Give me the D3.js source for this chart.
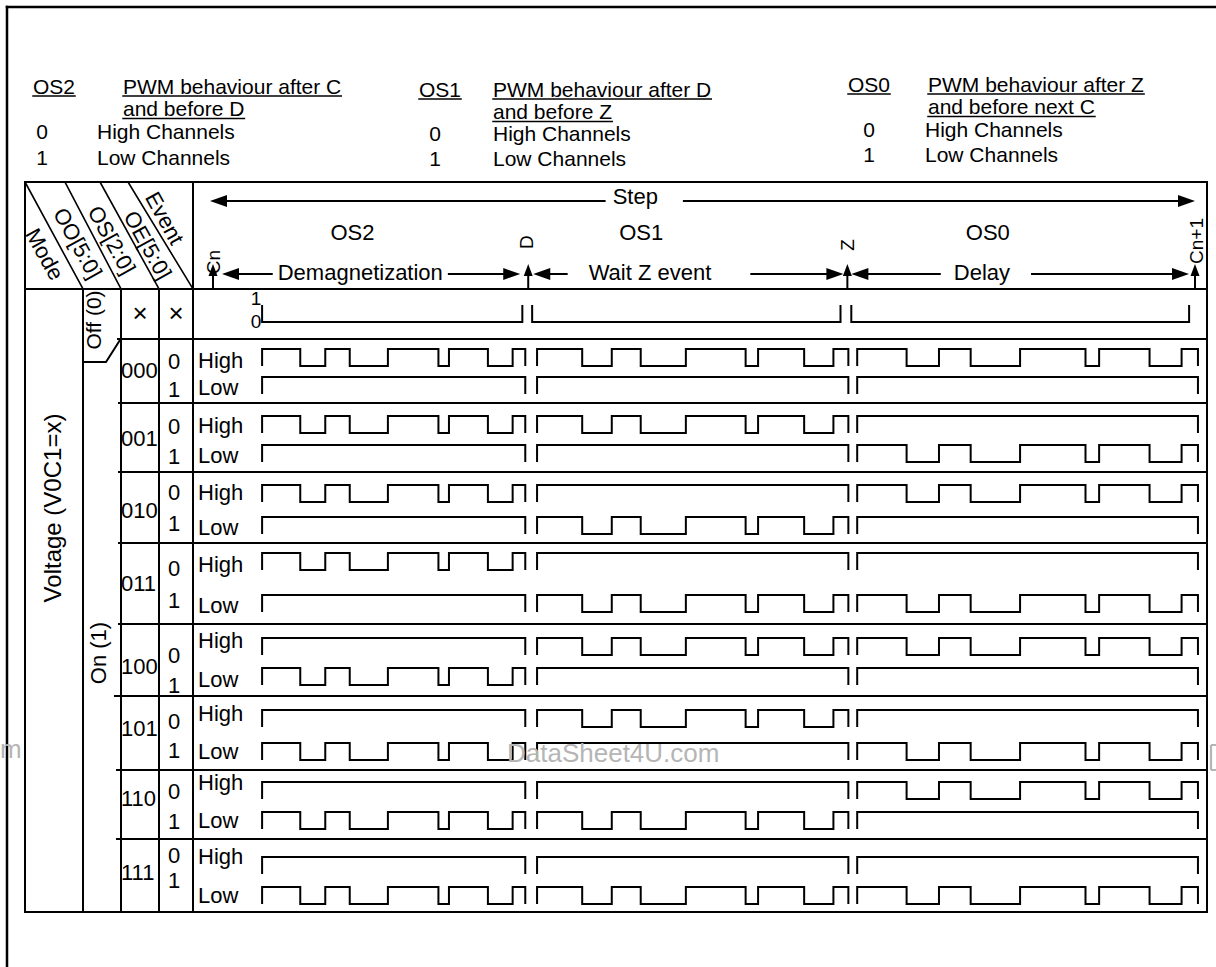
<!DOCTYPE html>
<html><head><meta charset="utf-8">
<script src="https://cdn.jsdelivr.net/npm/d3@7"></script>
<style>
body{margin:0;background:#fff}
svg{display:block}
text{font-family:"Liberation Sans",Arial,Helvetica,sans-serif}
</style>
</head><body>
<svg id="c" width="1216" height="967"></svg>
<script>
// ---------------- DATA ----------------
const codes = ["000","001","010","011","100","101","110","111"];
const rowLabels = ["High","Low"];
const rowBits = ["0","1"];
const stepEvents = ["Cn","D","Z","Cn+1"];
const eventTimes = [0, 32.1, 64.6, 100];            // % of one step
const phaseNames = ["OS2","OS1","OS0"];
const phaseLabels = ["Demagnetization","Wait Z event","Delay"];
const offSegments = [[5.0,31.5],[32.5,63.9],[65.0,99.4]];
const pwmSegments = [[5.0,31.8],[33.0,64.7],[65.6,100.3]];
const pwmToggles = [0.145,0.24,0.333,0.478,0.67,0.71,0.858,0.952]; // fraction of segment
const headerLabels = ["Mode","OO[5:0]","OS[2:0]","OE[5:0]","Event"];
const legendCodes = ["OS2","OS1","OS0"];
const legendLine1 = ["PWM behaviour after C","PWM behaviour after D","PWM behaviour after Z"];
const legendLine2 = ["and before D","and before Z","and before next C"];
const legendBits = ["0","1"];
const legendChannels = ["High Channels","Low Channels"];
const modeLabel = "Voltage (V0C1=x)";
const ooLabels = ["Off (0)","On (1)"];
const offLevels = ["1","0"];
const watermark = "DataSheet4U.com";

// ---------------- DRAWING ----------------
const svg = d3.select("#c");
const x = d3.scaleLinear().domain([0,100]).range([213,1195]);

function txt(px, py, s, o={}) {
  const size = o.size || 22;
  const t = svg.append("text")
    .attr("x", px).attr("y", py + size*0.36)
    .attr("font-size", size)
    .attr("text-anchor", o.anchor || "start")
    .attr("fill", o.fill || "#000")
    .text(s);
  if (o.rotate != null) t.attr("transform", `rotate(${o.rotate},${px},${py})`);
  return t;
}
function ln(x1,y1,x2,y2,w=2,col="#000") {
  svg.append("line").attr("x1",x1).attr("y1",y1).attr("x2",x2).attr("y2",y2)
    .attr("stroke",col).attr("stroke-width",w).attr("stroke-linecap","square");
}
function head(tx, ty, dir, len=17, half=6) {
  let p;
  if (dir==="left") p=[[tx,ty],[tx+len,ty-half],[tx+len,ty+half]];
  else if (dir==="right") p=[[tx,ty],[tx-len,ty-half],[tx-len,ty+half]];
  else p=[[tx,ty],[tx-half,ty+len],[tx+half,ty+len]];
  svg.append("path").attr("d", d3.line()(p)+"Z").attr("fill","#000");
}
function underline(t, w=1.5) {
  const b = t.node().getBBox();
  const by = +t.attr("y") + 2.5;
  ln(b.x, by, b.x + b.width, by, w);
}

// outer frame
ln(7,7,1216,7,2.5);
ln(7,7,7,967,2.5);

// legend
const LF = 21;
const legX = [{code:33, txt:123, bit:42, ch:97,  y:[86,108.5,131,157]},
              {code:419, txt:493, bit:435, ch:493, y:[89,111.5,133,158]},
              {code:848, txt:928, bit:869, ch:925, y:[84,106.5,129,154]}];
legendCodes.forEach((c,i)=>{
  const L = legX[i];
  underline(txt(L.code, L.y[0], c, {size:LF}));
  underline(txt(L.txt, L.y[0], legendLine1[i], {size:LF}));
  underline(txt(L.txt, L.y[1], legendLine2[i], {size:LF}));
  legendBits.forEach((b,j)=>{
    txt(L.bit, L.y[2+j], b, {anchor:"middle", size:LF});
    txt(L.ch, L.y[2+j], legendChannels[j], {size:LF});
  });
});

// table frame
const T = {l:25, r:1207, t:182, b:912, hb:289};
const colX = [83, 121, 159, 193];
svg.append("rect").attr("x",T.l).attr("y",T.t).attr("width",T.r-T.l).attr("height",T.b-T.t)
  .attr("fill","none").attr("stroke","#000").attr("stroke-width",2);
ln(T.l, T.hb, T.r, T.hb);
ln(colX[3], T.t, colX[3], T.b);
colX.slice(0,3).forEach(cx=>ln(cx, T.hb, cx, T.b));

// header diagonals and labels
const diagTop = [25, 65, 100, 128];
diagTop.forEach((dx,i)=>ln(dx, T.t, colX[i], T.hb, 1.6));
const diagLab = [[45,254],[78,243],[112,240],[148,245],[165,218]];
headerLabels.forEach((h,i)=>txt(diagLab[i][0], diagLab[i][1], h, {anchor:"middle", size:22, rotate:61}));

// Step arrow
const stepY = 201;
const stepT = txt(x(43.0), 196, "Step", {anchor:"middle"});
const sb = stepT.node().getBBox();
head(x(eventTimes[0])-3, stepY, "left");
ln(x(eventTimes[0])-3+17, stepY, sb.x-8, stepY);
ln(sb.x+sb.width+26, stepY, x(eventTimes[3])-17, stepY);
head(x(eventTimes[3]), stepY, "right");

// phase names
const phaseNameT = [14.2, 43.6, 78.9];
phaseNames.forEach((p,i)=>txt(x(phaseNameT[i]), 232, p, {anchor:"middle"}));

// phase interval arrows
const rowY = 274;
const phaseLabelT = [15.0, 44.5, 78.3];
const leftOff = [9,5,4], rightOff = [8,4,6];
const gaps = [[6,6],[22,40],[14,22]];
phaseLabels.forEach((p,i)=>{
  const t = txt(x(phaseLabelT[i]), rowY-2, p, {anchor:"middle"});
  const b = t.node().getBBox();
  const lt = x(eventTimes[i]) + leftOff[i], rt = x(eventTimes[i+1]) - rightOff[i];
  head(lt, rowY, "left");
  ln(lt+17, rowY, b.x-gaps[i][0], rowY);
  ln(b.x+b.width+gaps[i][1], rowY, rt-17, rowY);
  head(rt, rowY, "right");
});

// event up-arrows and labels
const evLab = [[0,262],[-2,242],[0,245],[1,241]];
stepEvents.forEach((e,i)=>{
  const ex = x(eventTimes[i]);
  ln(ex, T.hb, ex, 276, 2);
  head(ex, 264, "up", 12, 4.5);
  txt(ex+evLab[i][0], evLab[i][1], e, {anchor:"middle", size:19, rotate:-90});
});

// Off row
txt(93, 320, ooLabels[0], {anchor:"middle", size:21, rotate:-90});
txt(140, 313, "×", {anchor:"middle", size:26});
txt(176, 313, "×", {anchor:"middle", size:26});
txt(256, 298, offLevels[0], {anchor:"middle", size:19});
txt(256, 321, offLevels[1], {anchor:"middle", size:19});
offSegments.forEach(s=>{
  svg.append("path").attr("d", d3.line()([[x(s[0]),305],[x(s[0]),322],[x(s[1]),322],[x(s[1]),305]]))
    .attr("fill","none").attr("stroke","#000").attr("stroke-width",2);
});
// Off cell chamfer
svg.append("path").attr("d", d3.line()([[83,362],[106,362],[120,340]]))
  .attr("fill","none").attr("stroke","#000").attr("stroke-width",2);

// Mode / On labels
txt(52, 508, modeLabel, {anchor:"middle", size:24, rotate:-90});
txt(98, 653, ooLabels[1], {anchor:"middle", size:22, rotate:-90});

// rows
const rowTop = [339,403,472,543,624,696,770,839];
const sepStart = [118,119,119,119,119,115,117,117];
const hiY = [349,416,485,553,638,710,782,857];
const loY = [377,445,517,595,668,743,812,887];
const hiTxtY = [360,425,492,564,640,713,782,856];
const loTxtY = [387,455,527,605,679,751,820,895];
const codeY = [370,438,510,583,666,728,798,872];
const bit0Y = [361,426,492,568,655,721,791,855];
const bit1Y = [389,456,523,600,685,750,821,880];
const amp = 17;
const wl = d3.line();

function wave(yTop, seg, pwm) {
  const xs = d3.scaleLinear().domain([0,1]).range([x(seg[0]), x(seg[1])]);
  const yy = l => l ? yTop : yTop + amp;
  const pts = [[x(seg[0]), yy(0)], [x(seg[0]), yy(1)]];
  let lvl = 1;
  if (pwm) pwmToggles.forEach(f=>{
    pts.push([xs(f), yy(lvl)]); lvl = 1-lvl; pts.push([xs(f), yy(lvl)]);
  });
  pts.push([x(seg[1]), yy(lvl)]);
  pts.push([x(seg[1]), yy(0)]);
  svg.append("path").attr("d", wl(pts)).attr("fill","none")
    .attr("stroke","#000").attr("stroke-width",2).attr("stroke-linejoin","miter");
}

codes.forEach((c,r)=>{
  ln(sepStart[r], rowTop[r], T.r, rowTop[r]);
  txt(121, codeY[r], c, {size:22});
  txt(174, bit0Y[r], rowBits[0], {anchor:"middle"});
  txt(174, bit1Y[r], rowBits[1], {anchor:"middle"});
  txt(198, hiTxtY[r], rowLabels[0]);
  txt(198, loTxtY[r], rowLabels[1]);
  pwmSegments.forEach((s,k)=>{
    const lowPwm = c[k] === "1";
    wave(hiY[r], s, !lowPwm);
    wave(loY[r], s, lowPwm);
  });
});

// watermarks
txt(507, 753, watermark, {size:26, fill:"#b5b5b5"});
txt(0, 749, "m", {size:26, fill:"#b5b5b5"});
// fragment of a watermark letter cut by the right edge
svg.append("path").attr("d","M1211,745 L1211,770 M1211,745 L1216,745 M1211,770 L1216,770")
  .attr("fill","none").attr("stroke","#b5b5b5").attr("stroke-width",2.2);
</script>
</body></html>
